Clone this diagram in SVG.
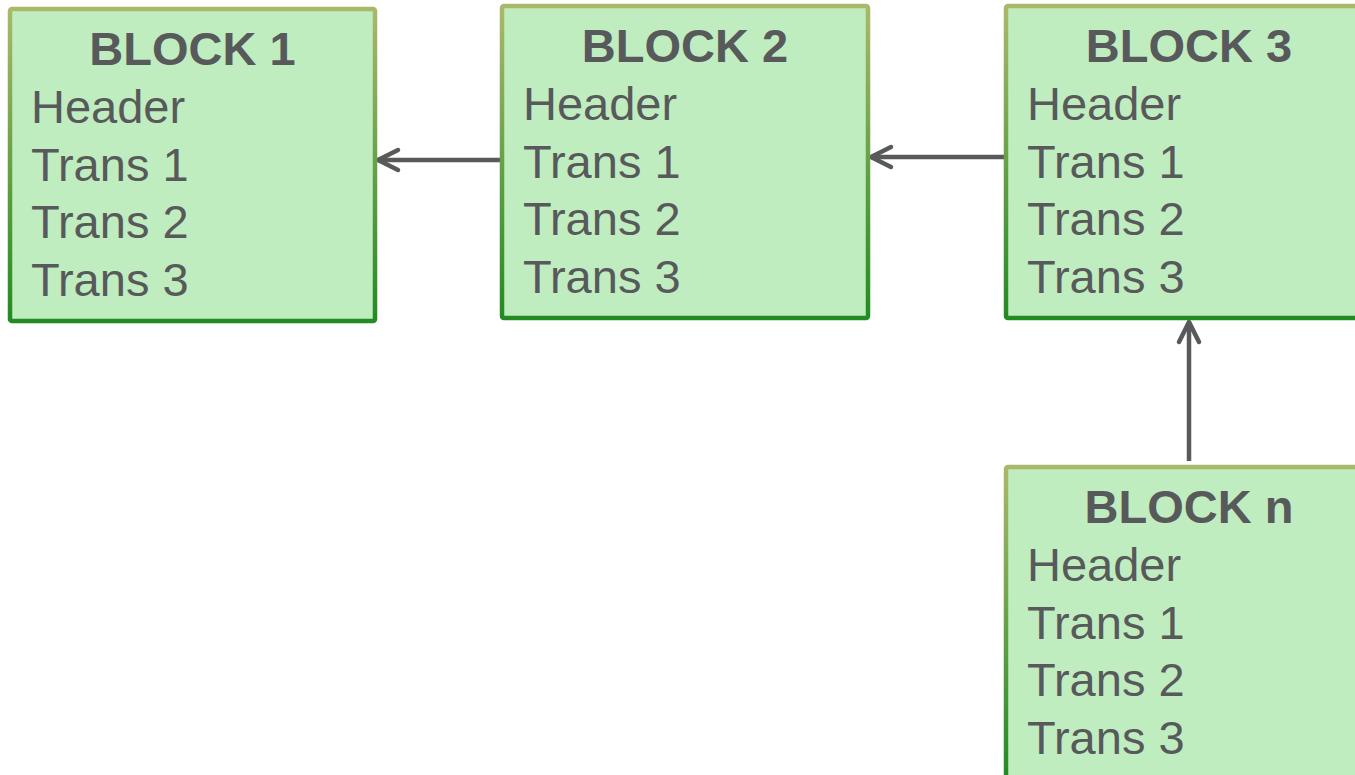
<svg xmlns="http://www.w3.org/2000/svg" width="1355" height="775" viewBox="0 0 1355 775">
<style>
.box{fill:#BFEDBF;stroke:url(#edge);stroke-width:4.5}
.t{font-family:"Liberation Sans",Arial,sans-serif;font-size:47px;fill:#58595B}
.h{font-weight:bold;text-anchor:middle}
.c{fill:none;stroke:#58595B;stroke-width:4.5}
</style>
<defs>
<linearGradient id="edge" x1="0" y1="0" x2="0" y2="1">
<stop offset="0" stop-color="#AAB86A"/>
<stop offset="1" stop-color="#228B22"/>
</linearGradient>
<marker id="arr" viewBox="-26 -14 30 28" refX="0" refY="0" markerWidth="30" markerHeight="28" markerUnits="userSpaceOnUse" orient="auto">
<path d="M-20,-10 L0,0 L-20,10" fill="none" stroke="#58595B" stroke-width="4.5" stroke-linecap="round" stroke-linejoin="round"/>
</marker>
</defs>
<rect width="1355" height="775" fill="#FFFFFF"/>
<g id="connectors">
<path class="c" d="M502,160 L378,160" marker-end="url(#arr)"/>
<path class="c" d="M1006,157 L871,157" marker-end="url(#arr)"/>
<path class="c" d="M1189,461 L1189,322" marker-end="url(#arr)"/>
</g>
<g id="block1">
<rect class="box" x="10" y="9" width="365" height="312" rx="2"/>
<text class="t h" x="192.5" y="65">BLOCK 1</text>
<text class="t" x="31" y="123">Header</text>
<text class="t" x="31" y="181">Trans 1</text>
<text class="t" x="31" y="238">Trans 2</text>
<text class="t" x="31" y="296">Trans 3</text>
</g>
<g id="block2">
<rect class="box" x="502" y="6" width="366" height="312" rx="2"/>
<text class="t h" x="685" y="62">BLOCK 2</text>
<text class="t" x="523" y="120">Header</text>
<text class="t" x="523" y="178">Trans 1</text>
<text class="t" x="523" y="235">Trans 2</text>
<text class="t" x="523" y="293">Trans 3</text>
</g>
<g id="block3">
<rect class="box" x="1006" y="6" width="366" height="312" rx="2"/>
<text class="t h" x="1189" y="62">BLOCK 3</text>
<text class="t" x="1027" y="120">Header</text>
<text class="t" x="1027" y="178">Trans 1</text>
<text class="t" x="1027" y="235">Trans 2</text>
<text class="t" x="1027" y="293">Trans 3</text>
</g>
<g id="blockn">
<rect class="box" x="1006" y="467" width="366" height="312" rx="2"/>
<text class="t h" x="1189" y="523">BLOCK n</text>
<text class="t" x="1027" y="581">Header</text>
<text class="t" x="1027" y="639">Trans 1</text>
<text class="t" x="1027" y="696">Trans 2</text>
<text class="t" x="1027" y="754">Trans 3</text>
</g>
</svg>
